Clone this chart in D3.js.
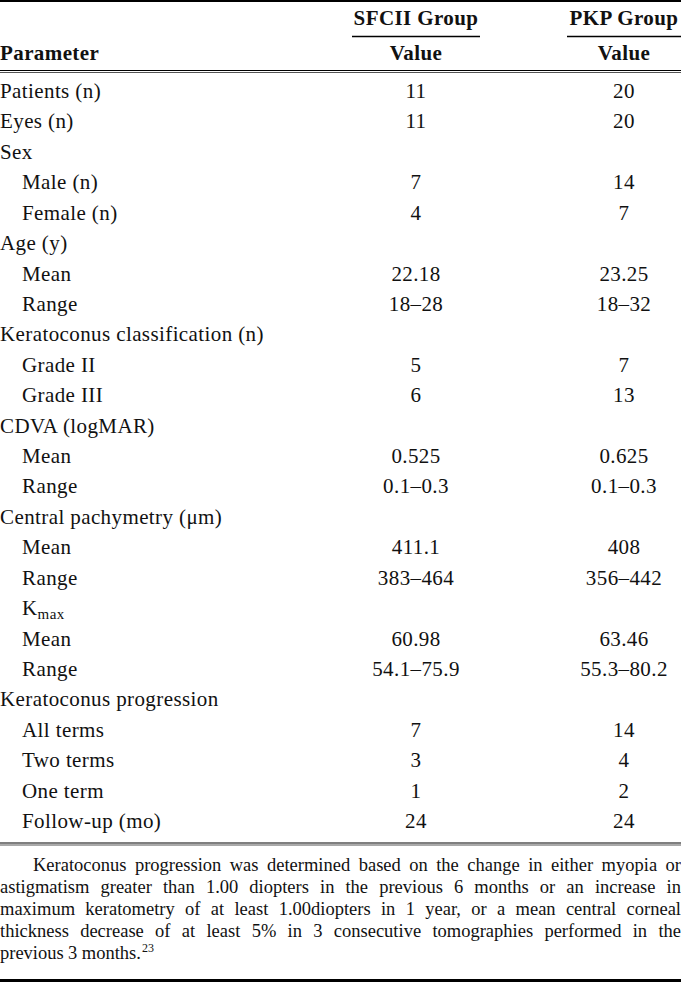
<!DOCTYPE html>
<html><head><meta charset="utf-8">
<script src="https://cdn.jsdelivr.net/npm/d3@7"></script>
<style>html,body{margin:0;padding:0;background:#fff;}svg{display:block;}</style>
</head><body>
<script>
// ---- data ----
const groups = ["SFCII Group", "PKP Group"];
const subHeader = "Value";
const paramHeader = "Parameter";
const labels = ["Patients (n)","Eyes (n)","Sex","Male (n)","Female (n)","Age (y)","Mean","Range",
  "Keratoconus classification (n)","Grade II","Grade III","CDVA (logMAR)","Mean","Range",
  "Central pachymetry (\u03bcm)","Mean","Range","K_max","Mean","Range",
  "Keratoconus progression","All terms","Two terms","One term","Follow-up (mo)"];
const indent = [0,0,0,1,1,0,1,1,0,1,1,0,1,1,0,1,1,1,1,1,0,1,1,1,1];
const sfcii = ["11","11","","7","4","","22.18","18\u201328","","5","6","","0.525","0.1\u20130.3","","411.1","383\u2013464","","60.98","54.1\u201375.9","","7","3","1","24"];
const pkp   = ["20","20","","14","7","","23.25","18\u201332","","7","13","","0.625","0.1\u20130.3","","408","356\u2013442","","63.46","55.3\u201380.2","","14","4","2","24"];
const footLines = [
  "Keratoconus progression was determined based on the change in either myopia or",
  "astigmatism greater than 1.00 diopters in the previous 6 months or an increase in",
  "maximum keratometry of at least 1.00diopters in 1 year, or a mean central corneal",
  "thickness decrease of at least 5% in 3 consecutive tomographies performed in the",
  "previous 3 months."];
const footRef = "23";

// ---- layout ----
const W = 681, H = 982;
const FONT = "'Liberation Serif','Times New Roman',serif";
const svg = d3.select("body").append("svg").attr("width", W).attr("height", H)
  .style("font-family", FONT).attr("fill", "#111");

const y = d3.scaleLinear().domain([0, labels.length - 1]).range([98, 828]);
const x = d3.scalePoint().domain(groups).range([416, 624]);

// rules
const rule = (y0, w, c) => svg.append("line").attr("x1", 0).attr("x2", W)
  .attr("y1", y0).attr("y2", y0).attr("stroke", c || "#000").attr("stroke-width", w);
rule(1, 2);
rule(70.5, 1.2); rule(72.5, 1, "#555");
rule(843, 1.2); rule(845, 1, "#555");
rule(980.5, 3);

// headers
const hdr = svg.append("g").attr("font-weight", "bold").attr("font-size", 21).attr("letter-spacing", 0.4);
groups.forEach(g => {
  hdr.append("text").attr("x", x(g)).attr("y", 25).attr("text-anchor", "middle").text(g);
  hdr.append("text").attr("x", x(g)).attr("y", 60).attr("text-anchor", "middle").text(subHeader);
});
svg.append("line").attr("x1", 352).attr("x2", 480).attr("y1", 36.5).attr("y2", 36.5).attr("stroke", "#000").attr("stroke-width", 1.3);
svg.append("line").attr("x1", 567).attr("x2", 681).attr("y1", 36.5).attr("y2", 36.5).attr("stroke", "#000").attr("stroke-width", 1.3);
hdr.append("text").attr("x", 0).attr("y", 60).text(paramHeader);

// rows
const rows = svg.append("g").attr("font-size", 21).attr("letter-spacing", 0.4);
labels.forEach((l, i) => {
  const t = rows.append("text").attr("x", indent[i] ? 22 : 0).attr("y", y(i));
  if (l.includes("_")) {
    const [a, b] = l.split("_");
    t.append("tspan").text(a);
    t.append("tspan").attr("font-size", 15).attr("dy", 4).text(b);
  } else t.text(l);
  [sfcii, pkp].forEach((arr, k) => {
    if (arr[i]) rows.append("text").attr("x", x(groups[k])).attr("y", y(i))
      .attr("text-anchor", "middle").text(arr[i]);
  });
});

// footnote (justified)
const fy = d3.scaleLinear().domain([0, footLines.length - 1]).range([871, 959]);
const fg = svg.append("g").attr("font-size", 18.5);
footLines.forEach((line, i) => {
  const x0 = i === 0 ? 33 : 0;
  const words = line.split(" ");
  const last = i === footLines.length - 1;
  const nodes = words.map(w => fg.append("text").attr("y", fy(i)).text(w));
  const widths = nodes.map(n => n.node().getComputedTextLength());
  const total = d3.sum(widths);
  const gap = last ? 4.4 : (W - x0 - total) / (words.length - 1);
  let cx = x0;
  nodes.forEach((n, j) => { n.attr("x", cx); cx += widths[j] + gap; });
  if (last) {
    fg.append("text").attr("x", cx - gap + 1).attr("y", fy(i) - 7).attr("font-size", 12).text(footRef);
  }
});
</script>
</body></html>
